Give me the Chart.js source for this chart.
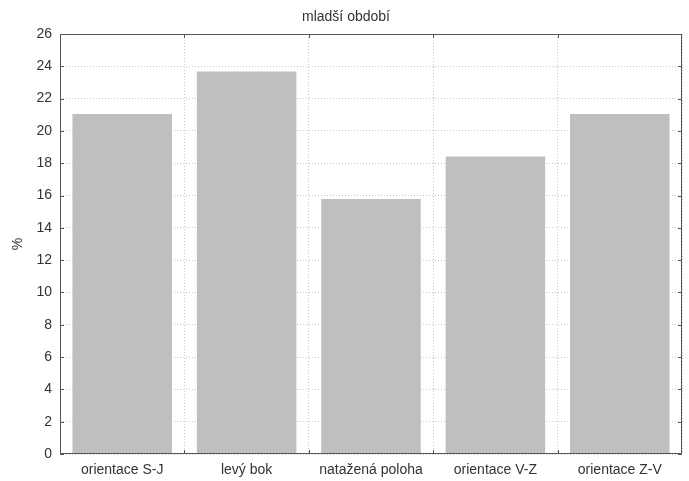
<!DOCTYPE html>
<html>
<head>
<meta charset="utf-8">
<script src="https://cdn.jsdelivr.net/npm/chart.js@4.4.0/dist/chart.umd.min.js"></script>
<style>
  html, body { margin: 0; padding: 0; background: #fff; }
  #wrap { width: 689px; height: 481px; }
</style>
</head>
<body>
<div id="wrap"><canvas id="barChart"></canvas></div>
<script>
const categories = ['orientace S-J', 'levý bok', 'natažená poloha', 'orientace V-Z', 'orientace Z-V'];
const percentValues = [21.05, 23.68, 15.79, 18.42, 21.05];
const yTicks = [0, 2, 4, 6, 8, 10, 12, 14, 16, 18, 20, 22, 24, 26];

const fontFamily = '"Liberation Sans", Arial, sans-serif';

// small tick marks pointing into the plot, plus the frame
const innerTicks = {
    id: 'innerTicks',
    afterDraw(chart) {
        const { ctx, chartArea: a, scales: { x, y } } = chart;
        ctx.save();
        ctx.strokeStyle = '#555';
        ctx.lineWidth = 1;
        ctx.beginPath();
        ctx.rect(a.left + 0.5, a.top + 0.5, a.right - a.left - 1, a.bottom - a.top - 1);
        for (let i = 1; i < categories.length; i++) {
            const px = Math.round((x.getPixelForTick(i - 1) + x.getPixelForTick(i)) / 2) + 0.5;
            ctx.moveTo(px, a.bottom); ctx.lineTo(px, a.bottom - 4);
            ctx.moveTo(px, a.top); ctx.lineTo(px, a.top + 4);
        }
        yTicks.forEach(v => {
            const py = Math.round(y.getPixelForValue(v)) + 0.5;
            ctx.moveTo(a.left, py); ctx.lineTo(a.left + 4, py);
            ctx.moveTo(a.right, py); ctx.lineTo(a.right - 4, py);
        });
        ctx.stroke();
        ctx.restore();
    }
};

document.addEventListener('DOMContentLoaded', function () {
    const ctx = document.getElementById('barChart').getContext('2d');
    new Chart(ctx, {
        type: 'bar',
        data: {
            labels: categories,
            datasets: [{
                label: '%',
                data: percentValues,
                backgroundColor: '#bfbfc1',
                borderWidth: 0,
                barPercentage: 0.8,
                categoryPercentage: 1.0
            }]
        },
        options: {
            responsive: true,
            maintainAspectRatio: false,
            animation: false,
            layout: { padding: { left: 10, right: 7, top: 0, bottom: 0 } },
            plugins: {
                legend: { display: false },
                tooltip: { enabled: false },
                title: {
                    display: true,
                    text: 'mladší období',
                    color: '#333',
                    font: { family: fontFamily, size: 14, weight: 'normal' },
                    padding: { top: 9, bottom: 8.2 }
                }
            },
            scales: {
                x: {
                    offset: true,
                    grid: {
                        offset: true,
                        color: '#c8c8c8',
                        drawTicks: false
                    },
                    border: { display: false, dash: [1, 2] },
                    ticks: {
                        color: '#333',
                        padding: 8,
                        maxRotation: 0,
                        font: { family: fontFamily, size: 14 }
                    },
                    afterFit: s => { s.height = 27; }
                },
                y: {
                    min: 0,
                    max: 26,
                    afterBuildTicks: s => { s.ticks = yTicks.map(v => ({ value: v })); },
                    grid: { color: '#c8c8c8', drawTicks: false },
                    border: { display: false, dash: [1, 2] },
                    ticks: {
                        color: '#333',
                        padding: 8,
                        font: { family: fontFamily, size: 14 }
                    },
                    title: {
                        display: true,
                        text: '%',
                        color: '#333',
                        padding: { top: 0, bottom: 0 },
                        font: { family: fontFamily, size: 14 }
                    },
                    afterFit: s => { s.width = 50; }
                }
            }
        },
        plugins: [innerTicks]
    });
});
</script>
</body>
</html>
